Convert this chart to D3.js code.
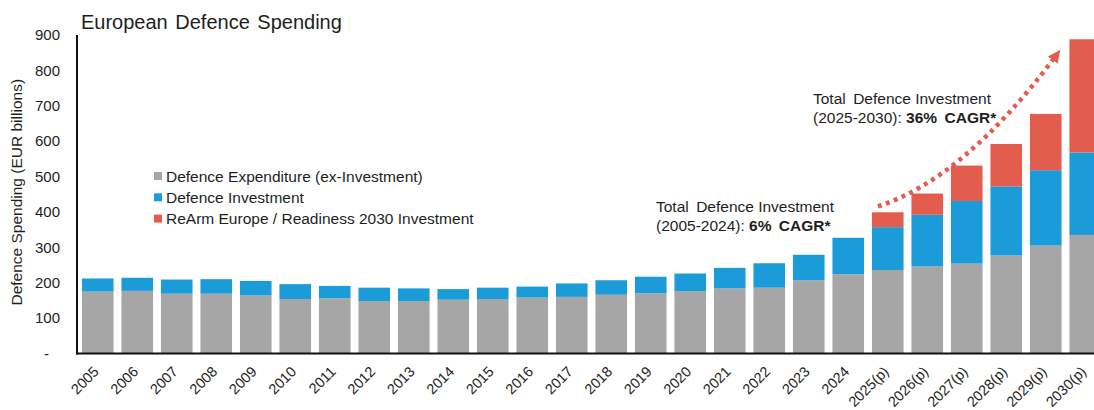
<!DOCTYPE html>
<html>
<head>
<meta charset="utf-8">
<script src="https://cdn.jsdelivr.net/npm/d3@7"></script>
<style>
	body { margin: 0; background: #fff; }
	svg { display: block; font-family: "Liberation Sans", Arial, sans-serif; }
	text { white-space: pre; }
</style>
</head>
<body>
<svg id="chart"></svg>
<script>
'use strict'

var years = ['2005', '2006', '2007', '2008', '2009', '2010', '2011', '2012', '2013', '2014',
	'2015', '2016', '2017', '2018', '2019', '2020', '2021', '2022', '2023', '2024',
	'2025(p)', '2026(p)', '2027(p)', '2028(p)', '2029(p)', '2030(p)'];

// EUR billions
var expenditure = [175, 177, 169, 169, 164, 154, 156, 148, 148, 152, 154, 158, 160, 166, 170, 176, 184, 186, 207, 224,
	236, 246, 254, 277, 305, 335];
var investment = [37, 37, 40, 41, 41, 42, 35, 38, 36, 30, 32, 31, 38, 41, 47, 50, 58, 69, 72, 103,
	121, 146, 177, 195, 213, 233];
var rearm = [0, 0, 0, 0, 0, 0, 0, 0, 0, 0, 0, 0, 0, 0, 0, 0, 0, 0, 0, 0,
	42, 60, 100, 120, 159, 320];

var seriesNames = ['Defence Expenditure (ex-Investment)', 'Defence Investment', 'ReArm Europe / Readiness 2030 Investment'];
var yTicks = [0, 100, 200, 300, 400, 500, 600, 700, 800, 900];

var WIDTH = 1094,
	HEIGHT = 410;

var margin = { top: 35, left: 78, bottom: 56.5 };

var grey = '#a6a6a6',
	blue = '#1b9bd7',
	red = '#e35d4f',
	textColor = '#1e1e1e';

var svg = d3.select('#chart')
	.attr('width', WIDTH)
	.attr('height', HEIGHT);

var table = years.map(function (y, i) {
	return { year: y, exp: expenditure[i], inv: investment[i], rearm: rearm[i] };
});

var stack = d3.stack().keys(['exp', 'inv', 'rearm'])(table);

var x = d3.scaleBand()
	.domain(years)
	.range([margin.left, margin.left + years.length * 39.5])
	.paddingInner(0.2)
	.paddingOuter(0.1);

var y = d3.scaleLinear()
	.domain([0, 900])
	.range([HEIGHT - margin.bottom, margin.top]);

var colors = [grey, blue, red];

// bars
svg.append('g')
	.selectAll('g')
	.data(stack)
	.enter()
	.append('g')
	.attr('fill', function (d, i) { return colors[i]; })
	.selectAll('rect')
	.data(function (d) { return d; })
	.enter()
	.append('rect')
	.attr('x', function (d) { return x(d.data.year); })
	.attr('width', x.bandwidth())
	.attr('y', function (d) { return y(d[1]); })
	.attr('height', function (d) { return y(d[0]) - y(d[1]); });

// y axis
var yAxis = svg.append('g')
	.attr('transform', 'translate(' + margin.left + ',0)')
	.call(d3.axisLeft(y)
		.tickValues(yTicks)
		.tickSize(0)
		.tickPadding(18)
		.tickFormat(function (d) { return d === 0 ? '-' : d; }));

yAxis.select('.domain').remove();
yAxis.selectAll('text')
	.style('font-size', '15px')
	.style('font-family', '"Liberation Sans", Arial, sans-serif')
	.attr('fill', textColor)
	.attr('dx', function (d) { return d === 0 ? -11 : 0; });

svg.append('line')
	.attr('x1', margin.left - 1)
	.attr('x2', margin.left - 1)
	.attr('y1', y(900))
	.attr('y2', y(0) + 1)
	.attr('stroke', '#111')
	.attr('stroke-width', 2);

svg.append('line')
	.attr('x1', margin.left - 2)
	.attr('x2', WIDTH)
	.attr('y1', y(0))
	.attr('y2', y(0))
	.attr('stroke', '#111')
	.attr('stroke-width', 2);

// x labels
svg.append('g')
	.selectAll('text')
	.data(years)
	.enter()
	.append('text')
	.attr('transform', function (d) {
		return 'translate(' + (x(d) + x.bandwidth() / 2 + 2) + ',' + (y(0) + 19) + ') rotate(-45)';
	})
	.attr('text-anchor', 'end')
	.attr('fill', textColor)
	.style('font-size', '14.5px')
	.text(function (d) { return d; });

// title
svg.append('text')
	.attr('x', 81)
	.attr('y', 28.5)
	.attr('fill', textColor)
	.style('font-size', '20px')
	.style('word-spacing', '2px')
	.text('European Defence Spending');

// y title
svg.append('text')
	.attr('transform', 'translate(22,' + ((y(0) + y(900)) / 2 - 2) + ') rotate(-90)')
	.attr('text-anchor', 'middle')
	.attr('fill', textColor)
	.style('font-size', '15.5px')
	.text('Defence Spending (EUR billions)');

// legend
var legend = svg.append('g')
	.selectAll('g')
	.data(seriesNames)
	.enter()
	.append('g')
	.attr('transform', function (d, i) { return 'translate(154,' + (176 + i * 21.3) + ')'; });

legend.append('rect')
	.attr('x', 0)
	.attr('y', -4)
	.attr('width', 8)
	.attr('height', 8)
	.attr('fill', function (d, i) { return colors[i]; });

legend.append('text')
	.attr('x', 12)
	.attr('y', 5.5)
	.attr('fill', textColor)
	.style('font-size', '15.5px')
	.text(function (d) { return d; });

// annotations
function annotate(px, py, period, rate) {
	var t = svg.append('text')
		.attr('x', px)
		.attr('y', py)
		.attr('fill', textColor)
		.style('font-size', '15.5px');
	t.append('tspan')
		.attr('x', px)
		.text('Total \u2009Defence Investment');
	var l2 = t.append('tspan')
		.attr('x', px)
		.attr('dy', 19);
	l2.append('tspan').text(period + ': ');
	l2.append('tspan')
		.style('font-weight', 'bold')
		.text(rate + ' \u2009CAGR*');
}

annotate(656, 212, '(2005-2024)', '6%');
annotate(813, 104, '(2025-2030)', '36%');

// dotted arrow
svg.append('defs')
	.append('marker')
	.attr('id', 'head')
	.attr('markerUnits', 'userSpaceOnUse')
	.attr('viewBox', '0 -7 14 14')
	.attr('refX', 3)
	.attr('refY', 0)
	.attr('markerWidth', 14)
	.attr('markerHeight', 14)
	.attr('orient', 'auto')
	.append('path')
	.attr('d', 'M0,-6L13,0L0,6Z')
	.attr('fill', red);

var p = d3.path();
p.moveTo(x('2025(p)') + 6, y(416));
p.quadraticCurveTo(x('2027(p)') + 12, y(492), x('2030(p)') - 15, y(836));

svg.append('path')
	.attr('d', p.toString())
	.attr('fill', 'none')
	.attr('stroke', red)
	.attr('stroke-width', 4.5)
	.attr('stroke-dasharray', '4,4.5')
	.attr('marker-end', 'url(#head)');
</script>
</body>
</html>
